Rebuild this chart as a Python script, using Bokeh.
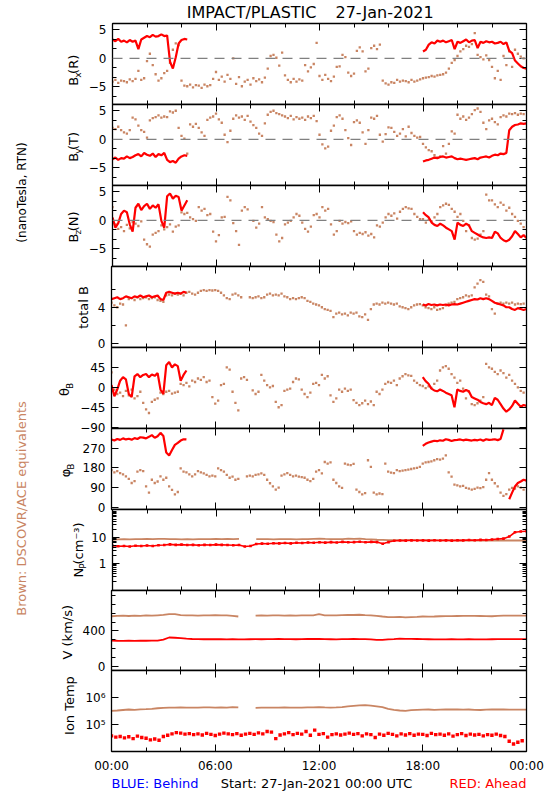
import numpy as np
from bokeh.plotting import figure
from bokeh.layouts import column, row
from bokeh.models import (Range1d, LinearAxis, LogAxis, FixedTicker, Span,
                          BasicTickFormatter, CustomLabelingPolicy)
from bokeh.core.properties import value
from bokeh.embed import file_html
from bokeh.resources import INLINE

# ---------------------------------------------------------------- data
TITLE_LEFT = "IMPACT/PLASTIC"
TITLE_DATE = "27-Jan-2021"
FOOT_LEFT = "BLUE: Behind"
FOOT_MID = "Start: 27-Jan-2021 00:00 UTC"
FOOT_RIGHT = "RED: Ahead"
SIDE_UNITS = "(nanoTesla, RTN)"
SIDE_BROWN = "Brown: DSCOVR/ACE equivalents"

X_TICKS = [0, 6, 12, 18, 24]
X_TICK_LABELS = ["00:00", "06:00", "12:00", "18:00", "00:00"]
X_MINOR = [2, 4, 8, 10, 14, 16, 20, 22]

# sample times (hours of the day)
T10 = np.arange(144) / 6.0          # 10-minute samples, DSCOVR/ACE field
T20 = np.arange(73) / 3.0           # 20-minute samples, plasma
T15 = np.arange(96) / 4.0           # 15-minute samples, Ahead temperature
T_RED_A = np.arange(27) / 6.0       # Ahead field, 00:00-04:20
T_RED_B = 18.0 + np.arange(37) / 6.0  # Ahead field, 18:00-24:00
nan = float("nan")

BX_BROWN = [-4.1, -3.8, -4.3, -3.9, -4.0, -4.2,  -3.7, -4.0, -3.6, -2.2, -3.8, -3.5,
            -0.5, 0.8, -1.2, -2.8, -3.9, -3.5,  -2.6, -2.2, -0.8, 1.5, 2.6, 2.3,
            -3.9, -4.8, -4.9, -4.6, -5.1, -4.7,  -4.8, -5.2, -4.6, -4.9, -4.7, -3.6,
            -2.4, -3.8, -3.2, -4.1, -2.9, -3.6,  0.0, -4.5, -3.3, -4.9, -4.1, -3.8,
            -4.6, -3.5, -4.0, -3.7, -4.2, -3.4,  -1.8, 0.4, 0.6, 0.1, -1.3, 1.0,
            -3.0, -3.8, -4.2, -3.6, -4.1, -3.7,  -3.9, -1.2, -2.3, -1.6, -1.0, 2.7,
            -3.1, -3.8, -2.9, -3.6, -4.0, -3.2,  -1.5, -1.4, 0.6, 0.2, -2.5, -3.1,
            -2.7, 1.3, 1.9, 1.2, -2.3, -1.8,  1.8, 2.2, 1.6, 2.4, -3.9, -4.4,
            -4.6, -4.2, -4.3, -3.8, -4.1, -3.9,  -4.0, -4.2, -3.8, -4.1, -3.9, -3.7,
            -3.5, -3.4, -3.3, -3.1, -3.2, -3.0,  -2.9, -2.8, -2.5, -1.8, -0.8, -0.3,
            0.4, 1.2, 1.6, 2.2, 2.0, 2.5,  4.4, 0.6, 0.2, -0.2, 0.5, -0.3,
            -1.5, -3.5, -2.2, -3.8, 0.4, -1.2,  1.2, -1.5, 1.5, 0.8, 0.3, 0.0]
BX_RED_A = [3.3, 3.0, 3.4, 2.9, 3.1, 2.8,  3.2, 2.9, 3.1, 1.6, 3.3, 3.6,
            3.9, 3.7, 4.1, 3.8, 3.9, 4.2,  3.9, 4.0, -0.6, -1.8, 0.2, 2.6,
            3.2, 3.4, 3.3]
BX_RED_B = [1.2, 1.5, 2.4, 2.8, 2.6, 3.1,  2.9, 3.1, 2.8, 3.0, 3.2, 1.6,
            2.9, 2.7, 3.0, 3.3, 2.8, 3.1,  3.2, 1.8, 2.9, 2.7, 3.0, 2.8,
            2.9, 2.6, 2.7, 2.9, 2.5, 2.8,  1.3, 0.9, -0.4, -0.9, -1.4, -1.7,
            -1.8]

BY_BROWN = [2.0, 1.8, 2.2, 1.6, 1.2, 1.0,  1.6, 3.8, 3.5, 2.4, 1.6, 1.3,
            0.3, 3.3, 3.7, 3.9, 4.2, 3.8,  4.0, 3.9, 4.9, 4.7, 5.0, 2.0,
            0.6, 0.1, -2.5, 2.6, 2.2, 2.7,  2.0, 1.2, 0.6, 3.4, 3.8, 4.0,
            4.5, 3.5, 2.9, 0.8, -0.5, 1.5,  3.6, 4.2, 3.8, 4.0, 3.4, 4.1,
            3.1, 2.5, 2.0, 1.0, 0.6, 2.8,  4.3, 4.8, 5.0, 4.6, 4.4, 4.2,
            4.0, 3.7, 4.1, 3.5, 3.9, 3.6,  3.8, 3.4, 4.0, 3.7, 4.1, 3.2,
            0.8, -0.9, -1.6, -1.3, 1.5, 2.4,  3.9, 4.2, 3.6, 1.6, 0.2, -1.0,
            3.0, 3.3, 2.9, 1.2, -0.8, 1.6,  3.8, 3.6, 4.1, 0.8, -0.4, 0.9,
            2.1, 2.0, 1.3, 0.6, 1.0, 1.8,  0.5, 2.2, 1.1, 0.6, 0.3, 0.4,
            -0.8, -1.4, -1.9, -2.1, -2.8, -3.2,  -3.0, -1.2, -2.5, -0.8, 1.4, 1.0,
            4.3, 3.6, 4.0, 3.4, 3.8, 4.4,  5.1, 5.4, 4.8, 2.9, 1.8, 3.3,
            3.6, 3.0, 2.6, 3.9, 4.2, 4.0,  4.5, 4.4, 4.6, 4.3, 4.5, 4.4]
BY_RED_A = [-3.5, -3.2, -3.6, -3.3, -3.4, -3.0,  -3.3, -3.1, -2.8, -2.6, -3.0, -2.4,
            -2.7, -2.9, -2.5, -3.1, -2.6, -2.8,  -2.4, -3.6, -4.0, -3.8, -4.1, -3.4,
            -3.0, -2.8, -2.9]
BY_RED_B = [-3.9, -3.7, -3.6, -3.4, -3.2, -3.3,  -3.1, -3.0, -3.2, -3.1, -3.0, -3.3,
            -3.5, -3.4, -3.5, -3.6, -3.5, -3.4,  -3.3, -3.5, -3.2, -3.1, -3.0, -3.2,
            -2.9, -2.7, -2.8, -2.5, -2.6, -2.4,  1.6, 2.2, 2.5, 2.6, 2.8, 2.7,
            2.8]

BZ_BROWN = [2.3, -0.7, -1.5, -1.2, -1.9, -0.8,  -1.4, -0.3, -0.6, -1.0, -0.2, -3.4,
            -4.2, -4.6, -2.5, -2.2, -1.9, -0.9,  -1.6, -1.2, -0.7, -2.0, -1.1, -0.9,
            1.4, 1.1, 1.3, 0.5, 0.2, -0.1,  2.3, 1.7, 2.0, 0.9, 1.1, -2.0,
            -3.7, -2.6, 0.5, 0.6, 4.1, 3.5,  -0.5, -1.9, -4.3, 1.7, 2.3, 1.9,
            nan, -0.1, -1.3, -0.6, 2.3, 0.5,  0.2, -0.1, -0.3, -2.5, -3.7, -3.1,
            -0.7, -0.4, -0.1, 0.5, 1.1, 0.8,  -0.4, -1.5, -2.0, -1.1, 0.9, 1.1,
            0.5, 2.3, 1.7, 2.0, -0.7, -2.5,  -1.9, -0.1, -0.6, -0.3, -0.5, -0.2,
            -1.9, -2.5, -2.2, -2.4, -2.1, -2.7,  -2.4, -3.0, -0.9, -1.1, -0.4, 0.5,
            1.1, 0.8, 1.2, 0.3, 1.5, 2.0,  2.3, 2.1, 2.0, 1.1, 0.6, 0.2,
            0.2, -0.4, 0.1, -0.2, 0.5, 1.1,  2.3, 2.6, 2.9, 2.7, 2.0, 1.5,
            0.6, 1.1, -0.1, -1.9, -0.9, -3.1,  -3.4, -3.2, -2.5, -1.9, 4.5, 3.5,
            3.5, 2.8, 2.3, 3.1, 2.7, 1.7,  2.2, 1.1, 0.6, -0.1, -0.6, -1.2]
BZ_RED_A = [0.5, -1.3, -0.5, 1.1, 1.7, 1.4,  -0.7, -2.0, 2.2, 2.9, 1.8, 2.5,
            2.9, 2.0, 2.6, 2.2, 2.8, -0.1,  -1.3, 4.2, 4.7, 3.8, 4.3, 4.1,
            1.7, 2.6, 3.5]
BZ_RED_B = [1.4, 0.9, 0.5, -0.4, -0.8, -1.0,  -0.6, -0.9, -1.3, -1.6, -1.9, -3.4,
            -0.4, -0.8, -1.0, -0.6, -0.9, -1.9,  -2.2, -2.5, -2.8, -3.0, -3.1, -3.0,
            -3.1, -2.0, -2.3, -3.1, -3.5, -3.7,  -3.4, -2.8, -1.9, -2.4, -3.0, -2.6,
            -3.1]

BT_BROWN = [4.5, 4.2, 4.0, 4.4, 4.3, 2.0,  4.9, 5.0, 4.8, 5.1, 4.9, 5.0,
            5.1, 4.9, 5.0, 5.1, 4.8, 4.7,  4.6, 5.3, 5.4, 5.3, 5.5, 5.4,
            5.5, 5.3, 5.6, 5.7, 5.5, 5.4,  5.6, 5.8, 5.9, 5.8, 5.9, 5.85,
            5.9, 5.8, 5.6, 5.3, 5.0, 4.9,  5.4, 5.5, 5.3, 5.1, nan, nan,
            5.1, 5.0, 5.1, 5.2, 5.0, 5.1,  5.4, 5.5, 5.3, 5.4, 5.3, 5.5,
            5.2, 5.1, 4.9, 5.0, 4.9, 5.0,  5.1, 5.0, 4.7, 4.6, 4.4, 4.3,
            4.2, 4.0, 3.8, 3.7, 3.6, 2.9,  3.3, 3.4, 3.2, 3.3, 3.1, 3.4,
            3.3, 3.4, 3.0, 2.9, 3.2, 2.6,  3.8, 4.3, 4.4, 4.3, 4.5, 4.4,
            4.5, 4.4, 4.3, 4.4, 4.1, 4.0,  3.9, 3.8, 4.0, 4.2, 4.3, 4.35,
            4.2, 4.0, 3.9, 3.8, 4.0, 3.7,  3.8, 3.9, 4.2, 4.4, 4.5, 4.6,
            4.9, 5.0, 5.1, 5.3, 5.2, 5.3,  6.2, 6.6, 7.0, 6.8, 5.4, 5.2,
            3.8, 3.3, 4.4, 4.5, 4.4, 4.5,  4.4, 4.5, 4.3, 4.4, 4.35, 4.4]
BT_RED_A = [4.9, 5.0, 5.1, 4.9, 5.0, 5.2,  5.1, 5.0, 5.2, 5.1, 5.3, 5.1,
            5.2, 5.3, 5.1, 5.2, 5.3, 4.9,  4.8, 5.6, 5.7, 5.6, 5.5, 5.6,
            5.5, 5.7, 5.6]
BT_RED_B = [4.3, 4.2, 4.35, 4.25, 4.3, 4.2,  4.3, 4.25, 4.3, 4.2, 4.3, 4.35,
            4.3, 4.4, 4.5, 4.6, 4.7, 4.8,  4.9, 4.85, 5.0, 4.9, 5.0, 4.9,
            4.7, 4.5, 4.4, 4.3, 4.2, 4.0,  4.0, 3.8, 3.7, 3.9, 3.8, 3.7,
            3.8]

TH_BROWN = [34, -5, -15, -12, -20, -8,  -18, -5, -25, -20, -10, -35,
            -50, -58, -33, -28, -25, -12,  -15, -10, -8, -14, -12, -10,
            8, 5, 10, 2, 15, 12,  20, 17, 23, 12, 15, -22,
            -37, -30, 5, 8, 45, 40,  -10, -35, -52, 20, 23, 17,
            nan, -7, -15, -10, 28, 15,  5, 0, 3, -33, -45, -40,
            -8, -5, -3, 12, 20, 18,  -5, -15, -22, -12, 8, 10,
            5, 28, 20, 25, -18, -33,  -25, -5, -10, -3, -8, -5,
            -29, -35, -40, -36, -30, -38,  -32, -40, -10, -15, -5, 8,
            12, 10, 15, 5, 20, 25,  30, 27, 26, 15, 10, 5,
            3, -2, 2, -1, 8, 15,  38, 45, 48, 42, 30, 22,
            10, 15, -3, -25, -10, -38,  -40, -36, -30, -22, 53, 45,
            42, 35, 30, 38, 32, 22,  28, 15, 8, 0, -8, -12]
TH_RED_A = [5, -20, -5, 15, 23, 18,  -15, -22, 25, 30, 23, 28,
            30, 23, 29, 26, 32, -5,  -15, 50, 57, 45, 52, 48,
            15, 28, 38]
TH_RED_B = [23, 14, 8, -3, -7, -9,  -5, -8, -12, -15, -18, -45,
            -5, -8, -10, -6, -9, -22,  -25, -28, -33, -36, -38, -35,
            -40, -24, -28, -38, -48, -55,  -50, -42, -30, -37, -44, -40,
            -42]

PH_BROWN = [170, 160, 165, 156, 150, 141,  130, 111, 120, 163, 170, 165,
            96, 67, 126, 111, 118, 141,  126, 135, 96, 80, 59, 70,
            178, 163, 160, 150, 141, 150,  165, 160, 155, 148, 141, 145,
            141, 178, 170, 163, 148, 135,  140, 126, 130, nan, nan, 141,
            145, 141, 148, 150, 155, 148,  126, 110, 96, 81, 90, 145,
            150, 156, 148, 141, 145, 140,  138, 135, 126, 120, 130, 163,
            170, 155, 207, 200, 205, 126,  111, 96, 89, 200, 195, 193,
            198, 81, 70, 59, 65, 215,  185, 67, 59, 63, 60, 200,
            163, 158, 156, 170, 165, 168,  170, 172, 175, 178, 180, 185,
            200, 205, 207, 210, 215, 220,  218, 222, 237, 160, 140, 104,
            100, 96, 98, 89, 85, 81,  84, 90, 88, 92, 126, 156,
            126, 110, 96, 67, 52, 60,  81, 89, 85, 96, 90, 81]
PH_RED_A = [310, 305, 312, 308, 315, 310,  313, 309, 316, 312, 320, 318,
            315, 322, 330, 318, 325, 340,  326, 250, 237, 262, 285, 294,
            305, 311, 310]
PH_RED_B = [281, 290, 296, 300, 304, 302,  306, 304, 311, 308, 303, 307,
            308, 310, 306, 309, 307, 305,  308, 306, 310, 304, 311, 308,
            309, 311, 307, 312, 356, nan,  37, 67, 95, 111, 118, 126,
            122]

NP_BROWN = [8.0, 8.2, 8.4, 8.3, 8.5, 8.4, 8.6, 8.5, 8.7, 8.6, 8.5, 8.4,
            8.3, 8.4, 8.3, 8.4, 8.5, 8.4, 8.6, 8.5, 8.7, 8.5, 8.6, nan,
            nan, 8.5, 8.4, 8.5, 8.3, 8.4, 8.5, 8.4, 8.3, 8.4, 8.5, 8.7,
            8.9, 8.6, 8.4, 8.5, 8.4, 8.8, 8.6, 8.9, 8.5, 8.3, 8.0, 7.9,
            7.8, 7.7, 7.8, 7.7, 7.8, 7.7, 7.6, 7.7, 7.6, 7.6, 7.7, 7.6,
            7.5, 7.6, 7.5, 7.6, 7.5, 7.6, 7.5, 7.5, 7.5, 7.5, 7.5, 7.5,
            7.5]
NP_RED = [4.7, 4.5, 4.6, 4.4, 4.7, 4.6, 4.8, 4.6, 4.9, 5.0, 5.3, 5.1,
          5.2, 5.0, 5.1, 4.9, 5.1, 5.0, 5.2, 5.1, 5.0, 4.9, 5.0, 4.4,
          4.6, 5.5, 5.7, 5.6, 5.9, 5.8, 6.0, 5.8, 6.1, 6.0, 6.3, 6.1,
          6.4, 6.2, 6.5, 6.3, 6.6, 6.4, 6.5, 6.7, 6.4, 6.6, 6.5, 5.6,
          6.5, 7.3, 7.5, 7.4, 7.6, 7.5, 7.6, 7.4, 7.7, 7.5, 7.6, 7.4,
          7.7, 7.6, 7.8, 7.7, 7.9, 7.8, 8.2, 8.5, 8.8, 10.6, 15.5, 16.5,
          17.0]

V_BROWN = [565, 570, 572, 568, 572, 570, 574, 572, 576, 580, 590, 588,
           578, 575, 574, 572, 574, 575, 578, 574, 576, 570, 562, nan,
           nan, 572, 574, 573, 575, 574, 572, 574, 573, 575, 574, 576,
           590, 575, 574, 576, 578, 580, 579, 582, 578, 575, 570, 562,
           556, 555, 558, 552, 555, 558, 562, 560, 562, 565, 567, 566,
           568, 570, 569, 570, 568, 566, 565, 570, 572, 571, 572, 572,
           572]
V_RED = [290, 288, 287, 289, 286, 288, 288, 290, 289, 300, 325, 322,
         318, 312, 308, 306, 305, 307, 305, 306, 304, 305, 303, 304,
         305, 306, 305, 307, 306, 308, 307, 306, 305, 307, 308, 309,
         308, 306, 305, 304, 306, 307, 308, 307, 306, 304, 298, 297,
         303, 307, 312, 310, 309, 308, 306, 305, 304, 303, 304, 305,
         304, 303, 305, 304, 303, 304, 305, 306, 307, 306, 307, 307,
         307]

TP_BROWN = [320000, 330000, 345000, 360000, 350000, 365000, 370000, 380000, 400000,
            415000, 425000, 420000, 430000, 425000, 420000, 425000, 430000, 428000,
            425000, 430000, 425000, 440000, 430000, nan, nan, 415000, 420000,
            425000, 420000, 425000, 430000, 425000, 420000, 425000, 430000, 428000,
            440000, 430000, 425000, 430000, 440000, 470000, 490000, 510000, 525000,
            500000, 470000, 440000, 380000, 350000, 330000, 320000, 340000, 350000,
            355000, 360000, 350000, 355000, 360000, 365000, 360000, 355000, 360000,
            350000, 345000, 355000, 360000, 365000, 360000, 355000, 355000, 355000,
            355000]
TP_RED = [38000, 34000, 36000, 32000, 35000, 30000, 37000, 33000,
          31000, 27000, 29000, 26000, 36000, 40000, 45000, 50000,
          48000, 44000, 46000, 42000, 45000, 41000, 47000, 43000,
          39000, 44000, 48000, 45000, 42000, 46000, 40000, 44000,
          47000, 43000, 49000, 45000, 55000, 52000, 30000, 41000,
          45000, 50000, 42000, 47000, 44000, 55000, 40000, 62000,
          43000, 46000, 34000, 42000, 45000, 41000, 44000, 48000,
          43000, 46000, 38000, 45000, 42000, 33000, 44000, 40000,
          47000, 43000, 38000, 45000, 41000, 46000, 40000, 44000,
          43000, 39000, 47000, 42000, 44000, 40000, 45000, 37000,
          42000, 46000, 39000, 44000, 41000, 43000, 38000, 42000,
          40000, 44000, 39000, 36000, 24000, 19000, 22000, 25000]

# ---------------------------------------------------------------- style / layout
BROWN = "#c98563"
RED = "#ff0000"
FONT = "DejaVu Sans"
TOTAL_W = 548
SIDE_W = 35
FRAME_L, FRAME_R = 111, 526
HEADER_H = 23
PANEL_TOPS = [23, 104, 185, 266, 347, 428, 509, 590, 670]
PANEL_H = [81, 81, 81, 81, 81, 81, 81, 80, 81]
PAD = 6            # transparent border above/below each frame (panels overlap there)
BOTTOM_AXIS = 24
FOOTER_H = 20
TOTAL_H = HEADER_H + sum(PANEL_H) + BOTTOM_AXIS + FOOTER_H

CW = {"B": .686, "x": .592, "(": .39, ")": .39, "R": .695, "y": .592, "T": .611, "z": .525,
      "N": .748, "t": .392, "o": .612, "a": .613, "l": .278, " ": .318, "θ": .602, "φ": .66,
      "P": .603, "c": .55, "m": .974, "⁻": .42, "³": .4, "V": .684, "k": .579, "/": .337,
      "s": .521, "I": .295, "n": .634, "e": .615, "p": .635}

HIDE = "for (const i of indices) indices.unset(i)"


def tw(s, size):
    return sum(CW.get(c, 0.6) for c in s) * size


def style_axis(ax, show_labels):
    ax.axis_line_color = "black"
    ax.axis_line_width = 1.3
    ax.major_tick_line_color = "black"
    ax.minor_tick_line_color = "black"
    ax.major_tick_in = 7
    ax.major_tick_out = 0
    ax.minor_tick_in = 4
    ax.minor_tick_out = 0
    if show_labels:
        ax.major_label_text_font = FONT
        ax.major_label_text_font_size = "12px"
        ax.major_label_text_color = "black"
        ax.major_label_standoff = 6
    else:
        ax.formatter = BasicTickFormatter()
        ax.major_label_text_font_size = "0px"
        ax.major_label_standoff = 0
        ax.major_label_policy = CustomLabelingPolicy(code=HIDE)


def blank(width, height, x0, y_top, y_bottom):
    f = figure(width=width, height=height, x_range=Range1d(x0, x0 + width),
               y_range=Range1d(y_bottom, y_top), x_axis_location=None, y_axis_location=None,
               toolbar_location=None, output_backend="svg", title=None,
               min_border_left=0, min_border_right=0, min_border_top=0, min_border_bottom=0)
    f.grid.visible = False
    f.outline_line_color = None
    f.background_fill_color = "white"
    f.border_fill_color = "white"
    return f


def panel(idx, boundary, ylo, yhi, yticks, yminor, overrides, ylog=False):
    last = idx == len(PANEL_TOPS) - 1
    bottom = BOTTOM_AXIS if last else PAD
    h = PAD + PANEL_H[idx] + bottom
    p = figure(width=TOTAL_W - boundary, height=h,
               x_range=Range1d(0, 24), y_range=Range1d(ylo, yhi),
               y_axis_type="log" if ylog else "linear",
               x_axis_location=None, y_axis_location=None,
               toolbar_location=None, output_backend="svg", title=None,
               min_border_left=FRAME_L - boundary, min_border_right=TOTAL_W - FRAME_R,
               min_border_top=PAD, min_border_bottom=bottom)
    p.grid.visible = False
    p.outline_line_color = "black"
    p.outline_line_width = 1
    p.background_fill_color = "white"
    p.border_fill_color = None
    xt = FixedTicker(ticks=X_TICKS, minor_ticks=X_MINOR)
    for loc in ("below", "above"):
        ax = LinearAxis(ticker=xt)
        show = last and loc == "below"
        style_axis(ax, show)
        if show:
            ax.major_label_overrides = {t: s for t, s in zip(X_TICKS, X_TICK_LABELS)}
            ax.major_label_standoff = 7
        p.add_layout(ax, loc)
    yt = FixedTicker(ticks=yticks, minor_ticks=yminor)
    for loc in ("left", "right"):
        ax = (LogAxis if ylog else LinearAxis)(ticker=yt)
        style_axis(ax, loc == "left")
        if loc == "left":
            ax.major_label_overrides = overrides
        p.add_layout(ax, loc)
    # axis-title strip to the left of the tick labels
    top = PANEL_TOPS[idx] - PAD
    lab = blank(boundary - SIDE_W, h, SIDE_W, top, top + h)
    lab.background_fill_color = None
    lab.border_fill_color = None
    return p, lab


def vlabel(lab, parts, cx, cy):
    total = sum(tw(t, s) for t, s, dx in parts)
    y = cy + total / 2.0
    for t, s, dx in parts:
        w = tw(t, s)
        if t.strip():
            lab.text(x=[cx + dx], y=[y - w / 2.0], text=[t], angle=np.pi / 2,
                     text_align="center", text_baseline="middle", text_font=value(FONT),
                     text_font_size=value(f"{s}px"), text_color="black")
        y -= w


def zero_line(p):
    p.add_layout(Span(location=0, dimension="width", line_color="#808080",
                      line_dash="10 7", line_width=1.3))


def brown_dots(p, t, v):
    p.scatter(t, np.array(v, dtype=float), marker="square", size=2.3,
              fill_color=BROWN, line_color=None)


def red_line(p, t, v, w=2.2):
    p.line(t, np.array(v, dtype=float), line_color=RED, line_width=w)


BMIN = [-6.667, -3.333, -1.667, 1.667, 3.333]
BOV = {-5: "\u22125", 0: "0", 5: "5"}

rows = []

# Bx
p, lab = panel(0, 85, -8.1, 6.1, [-5, 0, 5], BMIN, BOV)
zero_line(p)
brown_dots(p, T10, BX_BROWN)
red_line(p, T_RED_A, BX_RED_A)
red_line(p, T_RED_B, BX_RED_B)
vlabel(lab, [("B", 13, 0), ("x", 9, 4), ("(R)", 13, 0)], 73, 71)
rows.append(row(lab, p))

# By
p, lab = panel(1, 85, -8.1, 6.1, [-5, 0, 5], BMIN, BOV)
zero_line(p)
brown_dots(p, T10, BY_BROWN)
red_line(p, T_RED_A, BY_RED_A)
red_line(p, T_RED_B, BY_RED_B)
vlabel(lab, [("B", 13, 0), ("y", 9, 4), ("(T)", 13, 0)], 73, 147)
rows.append(row(lab, p))

# Bz
p, lab = panel(2, 85, -8.1, 6.1, [-5, 0, 5], BMIN, BOV)
zero_line(p)
brown_dots(p, T10, BZ_BROWN)
red_line(p, T_RED_A, BZ_RED_A)
red_line(p, T_RED_B, BZ_RED_B)
vlabel(lab, [("B", 13, 0), ("z", 9, 4), ("(N)", 13, 0)], 73, 227)
rows.append(row(lab, p))

# total B
p, lab = panel(3, 93, -0.45, 8.5, [0, 4], [2, 6], {0: "0", 4: "4"})
brown_dots(p, T10, BT_BROWN)
red_line(p, T_RED_A, BT_RED_A)
red_line(p, T_RED_B, BT_RED_B)
vlabel(lab, [("total B", 13, 0)], 83, 307)
rows.append(row(lab, p))

# theta
p, lab = panel(4, 77, -93, 90, [-90, -45, 0, 45], [],
               {-90: "\u221290", -45: "\u221245", 0: "0", 45: "45"})
brown_dots(p, T10, TH_BROWN)
red_line(p, T_RED_A, TH_RED_A)
red_line(p, T_RED_B, TH_RED_B)
vlabel(lab, [("θ", 13, 0), ("B", 9, 5)], 64, 389)
rows.append(row(lab, p))

# phi
p, lab = panel(5, 78, -10, 360, [0, 90, 180, 270], [],
               {0: "0", 90: "90", 180: "180", 270: "270"})
brown_dots(p, T10, PH_BROWN)
red_line(p, T_RED_A, PH_RED_A)
red_line(p, T_RED_B, PH_RED_B)
vlabel(lab, [("φ", 13, 0), ("B", 9, 5)], 65, 470)
rows.append(row(lab, p))

# Np
NP_MINOR = [0.2, 0.3, 0.4, 0.5, 0.6, 0.7, 0.8, 0.9, 2, 3, 4, 5, 6, 7, 8, 9,
            20, 30, 40, 50, 60, 70, 80, 90, 100]
p, lab = panel(6, 88, 0.09, 116, [1, 10], NP_MINOR, {1: "1", 10: "10"}, ylog=True)
p.line(T20, np.array(NP_BROWN, dtype=float), line_color=BROWN, line_width=1.8)
p.line(T20, np.array(NP_RED, dtype=float), line_color=RED, line_width=1.6)
p.scatter(T20, np.array(NP_RED, dtype=float), marker="square", size=2.6,
          fill_color=RED, line_color=None)
vlabel(lab, [("N", 13, 0), ("P", 9, 4), (" ", 9, 0), ("(cm⁻³)", 13, 0)], 78, 551)
rows.append(row(lab, p))

# V
p, lab = panel(7, 78, -48, 856, [0, 400], [100, 200, 300, 500, 600, 700, 800],
               {0: "0", 400: "400"})
p.line(T20, np.array(V_BROWN, dtype=float), line_color=BROWN, line_width=1.8)
p.line(T20, np.array(V_RED, dtype=float), line_color=RED, line_width=1.8)
vlabel(lab, [("V (km/s)", 13, 0)], 67, 632)
rows.append(row(lab, p))

# Ion temperature
p, lab = panel(8, 80, 1e4, 1e7, [1e5, 1e6], [], {100000: "10⁵", 1000000: "10⁶"}, ylog=True)
p.line(T20, np.array(TP_BROWN, dtype=float), line_color=BROWN, line_width=1.8)
p.scatter(T15, np.array(TP_RED, dtype=float), marker="square", size=3.4,
          fill_color=RED, line_color=None)
vlabel(lab, [("Ion Temp", 13, 0)], 69, 712)
rows.append(row(lab, p))

# panels overlap in their transparent PAD borders so the frames touch
rows[0].margin = (-PAD, 0, 0, 0)
for r in rows[1:]:
    r.margin = (-2 * PAD, 0, 0, 0)

header = blank(TOTAL_W - SIDE_W, HEADER_H, SIDE_W, 0, HEADER_H)
header.text(x=[316], y=[11.5], text=[TITLE_LEFT], text_align="right", text_baseline="middle",
            text_font=value(FONT), text_font_size=value("16px"), text_color="black")
header.text(x=[335], y=[11.5], text=[TITLE_DATE], text_align="left", text_baseline="middle",
            text_font=value(FONT), text_font_size=value("16px"), text_color="black")

FOOT_TOP = HEADER_H + sum(PANEL_H) + BOTTOM_AXIS
footer = blank(TOTAL_W - SIDE_W, FOOTER_H, SIDE_W, FOOT_TOP, FOOT_TOP + FOOTER_H)
footer.text(x=[111], y=[782.5], text=[FOOT_LEFT], text_align="left", text_baseline="middle",
            text_font=value(FONT), text_font_size=value("13px"), text_color="#0000ff")
footer.text(x=[316], y=[782.5], text=[FOOT_MID], text_align="center", text_baseline="middle",
            text_font=value(FONT), text_font_size=value("13px"), text_color="black")
footer.text(x=[526], y=[782.5], text=[FOOT_RIGHT], text_align="right", text_baseline="middle",
            text_font=value(FONT), text_font_size=value("13px"), text_color=RED)

side = blank(SIDE_W, TOTAL_H, 0, 0, TOTAL_H)
side.text(x=[21], y=[192], text=[SIDE_UNITS], angle=np.pi / 2, text_align="center",
          text_baseline="middle", text_font=value(FONT), text_font_size=value("12px"),
          text_color="black")
side.text(x=[21], y=[508], text=[SIDE_BROWN], angle=np.pi / 2, text_align="center",
          text_baseline="middle", text_font=value(FONT), text_font_size=value("13px"),
          text_color=BROWN)

layout = row(side, column([header] + rows + [footer]))

open("out.html", "w").write(file_html(layout, INLINE))
